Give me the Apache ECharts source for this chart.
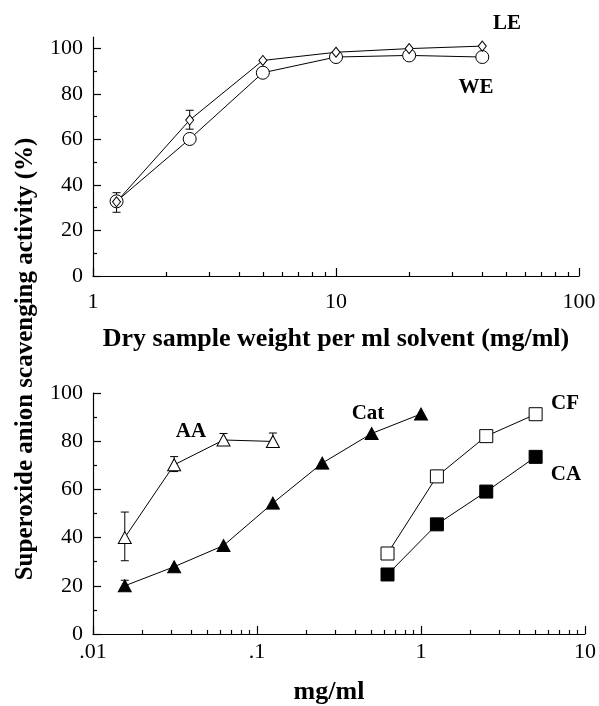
<!DOCTYPE html>
<html>
<head>
<meta charset="utf-8">
<script src="https://cdn.jsdelivr.net/npm/echarts@6/dist/echarts.min.js"></script>
<style>
html, body { margin: 0; padding: 0; background: #fff; }
#chart { width: 599px; height: 706px; }
</style>
</head>
<body>
<div id="chart"></div>
<script>
// top panel: dry sample weight per ml solvent
var topX = [1.25, 2.5, 5, 10, 20, 40];
var leY = [32.6, 68.5, 94.7, 98.3, 99.9, 101.0];
var weY = [32.8, 60.2, 89.3, 96.2, 96.9, 96.2];
var topErrX = [1.25, 2.5];
var topErrLow = [28.0, 64.5];
var topErrHigh = [36.6, 72.8];

// bottom panel: reference compounds
var aaX = [0.015625, 0.03125, 0.0625, 0.125];
var aaY = [40.0, 70.2, 80.5, 79.9];
var aaErrLow = [30.4, 67.4, 78.2, 77.6];
var aaErrHigh = [50.6, 73.6, 83.2, 83.4];
var catX = [0.015625, 0.03125, 0.0625, 0.125, 0.25, 0.5, 1];
var catY = [20.0, 27.9, 36.7, 54.3, 70.9, 83.2, 91.3];
var catErrX = [0.015625];
var catErrLow = [18.0];
var catErrHigh = [22.3];
var cX = [0.625, 1.25, 2.5, 5];
var cfY = [33.4, 65.4, 82.1, 91.2];
var caY = [24.7, 45.5, 59.1, 73.5];

// ticks
var yMajor = [0, 20, 40, 60, 80, 100];
var yMinor = [10, 30, 50, 70, 90];
var topMinor = [2, 3, 4, 5, 6, 7, 8, 9, 20, 30, 40, 50, 60, 70, 80, 90];
var botMinor = [0.02, 0.03, 0.04, 0.05, 0.06, 0.07, 0.08, 0.09,
  0.2, 0.3, 0.4, 0.5, 0.6, 0.7, 0.8, 0.9, 2, 3, 4, 5, 6, 7, 8, 9];

var serif = '"Liberation Serif", "Times New Roman", serif';

function pairs(xs, ys) {
  return xs.map(function (x, i) { return [x, ys[i]]; });
}
function errs(xs, lo, hi) {
  return xs.map(function (x, i) { return [x, lo[i], hi[i]]; });
}

function errorBar(params, api) {
  var x = api.value(0);
  var top = api.coord([x, api.value(2)]);
  var bot = api.coord([x, api.value(1)]);
  var w = 4;
  var st = { stroke: '#000', lineWidth: 1 };
  return {
    type: 'group',
    children: [
      { type: 'line', shape: { x1: top[0], y1: top[1], x2: bot[0], y2: bot[1] }, style: st },
      { type: 'line', shape: { x1: top[0] - w, y1: top[1], x2: top[0] + w, y2: top[1] }, style: st },
      { type: 'line', shape: { x1: bot[0] - w, y1: bot[1], x2: bot[0] + w, y2: bot[1] }, style: st }
    ]
  };
}

function fmtLog(v) {
  var s = String(+(+v).toPrecision(3));
  return s.replace(/^0\./, '.');
}

var lineAxis = { show: true, lineStyle: { color: '#000', width: 1.2 } };
var labelStyle = { color: '#000', fontFamily: serif, fontSize: 22 };

function xMajor(grid, min, max, margin, name, nameGap, namePad) {
  return {
    type: 'log', logBase: 10, gridIndex: grid, min: min, max: max, position: 'bottom',
    axisLine: lineAxis,
    axisTick: { show: true, inside: true, length: 8, lineStyle: { color: '#000', width: 1.2 } },
    axisLabel: Object.assign({ margin: margin, formatter: fmtLog }, labelStyle),
    splitLine: { show: false },
    name: name, nameLocation: 'middle', nameGap: nameGap,
    nameTextStyle: { color: '#000', fontFamily: serif, fontSize: 26, fontWeight: 'bold', padding: namePad }
  };
}
function xMinorAxis(grid, min, max, vals) {
  return {
    type: 'log', logBase: 10, gridIndex: grid, min: min, max: max, position: 'bottom',
    axisLine: { show: false },
    axisTick: { show: true, inside: true, length: 4, customValues: vals, lineStyle: { color: '#000', width: 1.2 } },
    axisLabel: { show: false },
    splitLine: { show: false }
  };
}
function yMajorAxis(grid, max) {
  return {
    type: 'value', gridIndex: grid, min: 0, max: max, position: 'left',
    axisLine: lineAxis,
    axisTick: { show: true, inside: true, length: 8, customValues: yMajor, lineStyle: { color: '#000', width: 1.2 } },
    axisLabel: Object.assign({ margin: 10, customValues: yMajor, padding: [8, 0, 0, 0] }, labelStyle),
    splitLine: { show: false }
  };
}
function yMinorAxis(grid, max) {
  return {
    type: 'value', gridIndex: grid, min: 0, max: max, position: 'left',
    axisLine: { show: false },
    axisTick: { show: true, inside: true, length: 4, customValues: yMinor, lineStyle: { color: '#000', width: 1.2 } },
    axisLabel: { show: false },
    splitLine: { show: false }
  };
}

function lineSeries(xi, yi, data, symbol, size, fill) {
  return {
    type: 'line', xAxisIndex: xi, yAxisIndex: yi, data: data,
    symbol: symbol, symbolSize: size, showAllSymbol: true, z: 3,
    lineStyle: { color: '#000', width: 1 },
    itemStyle: { color: fill, borderColor: '#000', borderWidth: 1 },
    emphasis: { disabled: true }, animation: false
  };
}
function errSeries(xi, yi, data) {
  return {
    type: 'custom', xAxisIndex: xi, yAxisIndex: yi, data: data,
    renderItem: errorBar, encode: { x: 0, y: [1, 2] }, z: 2, animation: false
  };
}

var chart = echarts.init(document.getElementById('chart'));
chart.setOption({
  animation: false,
  backgroundColor: '#fff',
  grid: [
    { left: 93, right: 20, top: 37, height: 239 },
    { left: 93, right: 13, top: 393, height: 243 }
  ],
  xAxis: [
    xMajor(0, 1, 100, 15, 'Dry sample weight per ml solvent (mg/ml)', 50, [0, 0, 0, 0]),
    xMinorAxis(0, 1, 100, topMinor),
    xMajor(1, 0.01, 10, 7, 'mg/ml', 45, [0, 20, 0, 0]),
    xMinorAxis(1, 0.01, 10, botMinor)
  ],
  yAxis: [
    yMajorAxis(0, 105),
    yMinorAxis(0, 105),
    yMajorAxis(1, 100),
    yMinorAxis(1, 100)
  ],
  series: [
    errSeries(0, 0, errs(topErrX, topErrLow, topErrHigh)),
    lineSeries(0, 0, pairs(topX, weY), 'circle', 13, '#fff'),
    lineSeries(0, 0, pairs(topX, leY), 'diamond', [8, 10], '#fff'),
    errSeries(2, 2, errs(aaX, aaErrLow, aaErrHigh)),
    errSeries(2, 2, errs(catErrX, catErrLow, catErrHigh)),
    lineSeries(2, 2, pairs(aaX, aaY), 'triangle', [13, 12], '#fff'),
    lineSeries(2, 2, pairs(catX, catY), 'triangle', [13, 12], '#000'),
    lineSeries(2, 2, pairs(cX, cfY), 'rect', 13, '#fff'),
    lineSeries(2, 2, pairs(cX, caY), 'rect', 13, '#000')
  ],
  graphic: [
    { type: 'text', x: 26, y: 359, rotation: Math.PI / 2,
      style: { text: 'Superoxide anion scavenging activity (%)', font: 'bold 25px ' + serif,
        fill: '#000', align: 'center', verticalAlign: 'middle' } },
    { type: 'text', x: 507, y: 24, style: { text: 'LE', font: 'bold 21px ' + serif, fill: '#000', align: 'center', verticalAlign: 'middle' } },
    { type: 'text', x: 476, y: 88, style: { text: 'WE', font: 'bold 21px ' + serif, fill: '#000', align: 'center', verticalAlign: 'middle' } },
    { type: 'text', x: 191, y: 432, style: { text: 'AA', font: 'bold 21px ' + serif, fill: '#000', align: 'center', verticalAlign: 'middle' } },
    { type: 'text', x: 368, y: 414, style: { text: 'Cat', font: 'bold 21px ' + serif, fill: '#000', align: 'center', verticalAlign: 'middle' } },
    { type: 'text', x: 565, y: 404, style: { text: 'CF', font: 'bold 21px ' + serif, fill: '#000', align: 'center', verticalAlign: 'middle' } },
    { type: 'text', x: 566, y: 475, style: { text: 'CA', font: 'bold 21px ' + serif, fill: '#000', align: 'center', verticalAlign: 'middle' } }
  ]
});
</script>
</body>
</html>
